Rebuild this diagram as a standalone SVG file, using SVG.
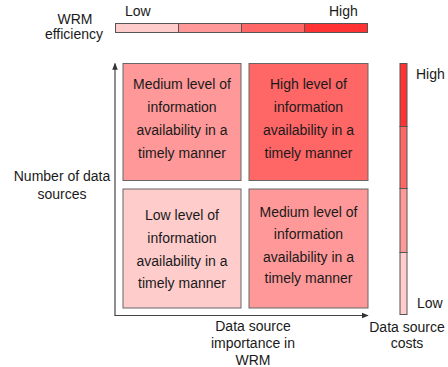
<svg xmlns="http://www.w3.org/2000/svg" width="448" height="367" viewBox="0 0 448 367">
<style>
text{font-family:"Liberation Sans",Arial,sans-serif;font-size:14px;fill:#1a1a1a}
.c{text-anchor:middle}
.box{stroke:#666;stroke-width:1}
.seg{stroke:#555;stroke-width:1}
.ax{stroke:#444;stroke-width:1.2;fill:none}
</style>
<defs>
<marker id="ah" viewBox="0 0 10 10" refX="9" refY="5" markerWidth="7" markerHeight="7" markerUnits="userSpaceOnUse" orient="auto">
<path d="M0,1 L10,5 L0,9 Z" fill="#333"/>
</marker>
</defs>
<rect width="448" height="367" fill="#fff"/>
<g id="wrm-efficiency-scale">
<rect class="seg" x="115.5" y="23.5" width="63" height="9" fill="#FFCCCC"/>
<rect class="seg" x="178.5" y="23.5" width="63" height="9" fill="#FF9999"/>
<rect class="seg" x="241.5" y="23.5" width="63" height="9" fill="#FF6666"/>
<rect class="seg" x="304.5" y="23.5" width="63" height="9" fill="#FF3333"/>
<text x="125" y="16">Low</text>
<text x="329" y="16">High</text>
<text class="c" x="75" y="24">WRM</text>
<text class="c" x="74" y="39">efficiency</text>
</g>
<g id="cost-scale">
<rect class="seg" x="400" y="63.5" width="7" height="63" fill="#FF3333"/>
<rect class="seg" x="400" y="126.5" width="7" height="62" fill="#FF6666"/>
<rect class="seg" x="400" y="188.5" width="7" height="64" fill="#FF9999"/>
<rect class="seg" x="400" y="252.5" width="7" height="62" fill="#FFCCCC"/>
<text x="416" y="79">High</text>
<text x="417" y="308">Low</text>
<text class="c" x="407" y="332">Data source</text>
<text class="c" x="407" y="348">costs</text>
</g>
<g id="connectors">
<path class="ax" d="M115,315.5 V63.5" marker-end="url(#ah)"/>
<path class="ax" d="M114.4,315.5 H368" marker-end="url(#ah)"/>
</g>
<g id="axis-y-label">
<text class="c" x="62" y="181">Number of data</text>
<text class="c" x="62" y="199">sources</text>
</g>
<g id="axis-x-label">
<text class="c" x="253" y="331">Data source</text>
<text class="c" x="253" y="348">importance in</text>
<text class="c" x="253" y="365">WRM</text>
</g>
<g id="q-top-left">
<rect class="box" x="123" y="63.5" width="118" height="117" fill="#FF9999"/>
<text class="c" x="182" y="88.5">Medium level of</text>
<text class="c" x="182" y="112">information</text>
<text class="c" x="182" y="135">availability in a</text>
<text class="c" x="182" y="157.5">timely manner</text>
</g>
<g id="q-top-right">
<rect class="box" x="249" y="63.5" width="119" height="117" fill="#FF6666"/>
<text class="c" x="308.5" y="88.5">High level of</text>
<text class="c" x="308.5" y="112">information</text>
<text class="c" x="308.5" y="135">availability in a</text>
<text class="c" x="308.5" y="157.5">timely manner</text>
</g>
<g id="q-bottom-left">
<rect class="box" x="123" y="189" width="118" height="119" fill="#FFCCCC"/>
<text class="c" x="182" y="220">Low level of</text>
<text class="c" x="182" y="243">information</text>
<text class="c" x="182" y="266">availability in a</text>
<text class="c" x="182" y="288">timely manner</text>
</g>
<g id="q-bottom-right">
<rect class="box" x="249" y="189" width="119" height="119" fill="#FF9999"/>
<text class="c" x="308.5" y="216.5">Medium level of</text>
<text class="c" x="308.5" y="239">information</text>
<text class="c" x="308.5" y="262">availability in a</text>
<text class="c" x="308.5" y="283">timely manner</text>
</g>
</svg>
